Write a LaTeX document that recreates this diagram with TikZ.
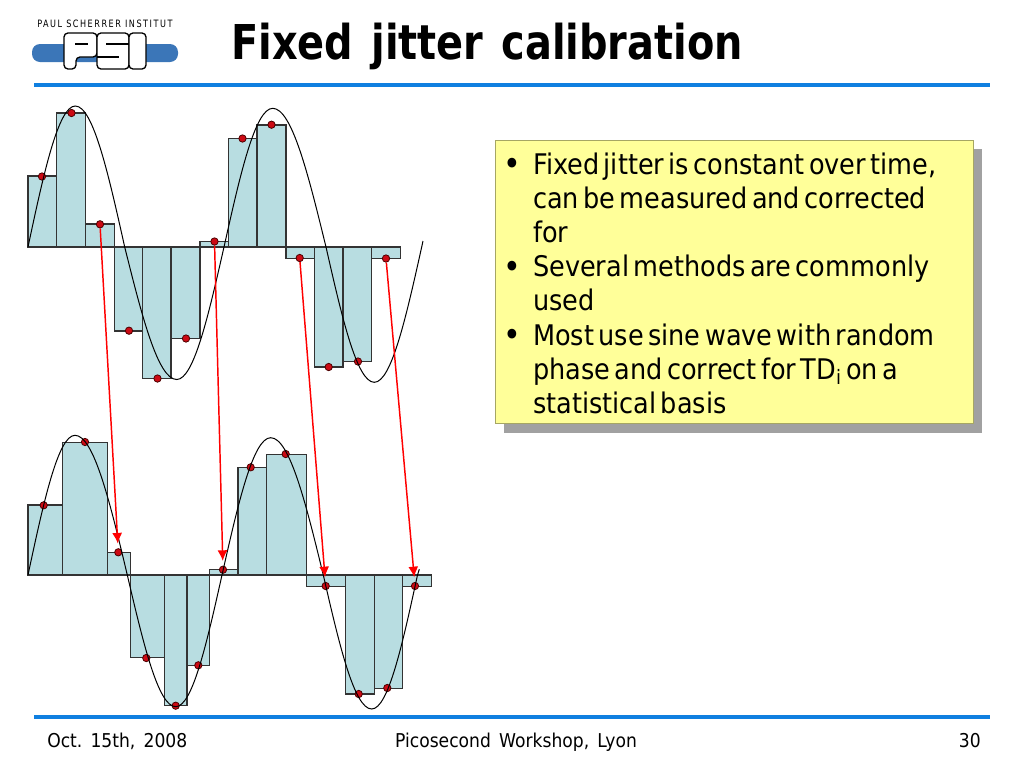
\documentclass[tikz,border=0pt]{standalone}
\usepackage{fontspec}
\setmainfont[FakeStretch=0.9, WordSpace=1.5]{DejaVu Sans}
\newfontfamily\titlefont[FakeStretch=0.83, WordSpace=1.3]{DejaVu Sans}
\newfontfamily\logofont[FakeStretch=0.8, LetterSpace=15]{DejaVu Sans}
\usepackage{enumitem}
\usetikzlibrary{arrows.meta, shadows}
\frenchspacing
\definecolor{barcol}{HTML}{B8DDE1}
\definecolor{rulecol}{HTML}{0F7FE0}
\definecolor{logocol}{HTML}{3B76B8}
\definecolor{notecol}{HTML}{FFFF99}
\definecolor{dotcol}{HTML}{CC0A14}
\tikzstyle{bar} = [draw=black!80, fill=barcol, line width=0.95pt]
\tikzstyle{wave} = [draw=black, line width=0.75pt]
\tikzstyle{sample} = [circle, draw=black!70!red, fill=dotcol, line width=0.6pt, inner sep=0pt, minimum size=5.5pt]
\tikzstyle{arrow} = [draw=red, line width=1.1pt, -{Latex[length=8pt,width=7.5pt]}, shorten >=3.5pt]
\tikzstyle{rulebar} = [draw=rulecol, line width=2.3pt]
\tikzstyle{footer} = [inner sep=0pt, font=\fontsize{14.3pt}{18pt}\selectfont]
\tikzstyle{note} = [rectangle, draw=black!35!notecol, fill=notecol, line width=0.7pt, minimum width=358.5pt, minimum height=212.5pt, text width=344pt, inner sep=0pt, align=left, drop shadow={shadow xshift=6.5pt, shadow yshift=-6.5pt, fill=black!37, opacity=1}]
\tikzstyle{logopart} = [draw=black, fill=white, line width=1pt, rounded corners=3pt]
\begin{document}
\begin{tikzpicture}[x=0.75pt, y=-0.75pt]
    \useasboundingbox (0,0) rectangle (1024,768);
    % header
    \node (title) [anchor=base west, inner sep=0pt, font=\fontsize{36pt}{40pt}\titlefont\bfseries] at (231,59) {Fixed jitter calibration};
    \node (institute) [anchor=base west, inner sep=0pt, font=\fontsize{7.6pt}{9pt}\logofont] at (37,27) {PAUL SCHERRER INSTITUT};
    \draw [fill=logocol, draw=none, rounded corners=6pt] (32,44) rectangle (178,62);
    \draw [logopart] (64,33) -- (97,33) -- (97,57) -- (76,57) -- (76,69) -- (64,69) -- cycle;
    \draw [logopart] (97,33) rectangle (129,69);
    \draw [logopart] (129,33) rectangle (146,69);
    \draw [line width=0.9pt] (75,44) -- (88,44);
    \draw [line width=0.9pt] (106,44) -- (129,44);
    \draw [line width=0.9pt] (97,57) -- (119,57);
    \draw [rulebar] (34,85) -- (990,85);
    \draw [rulebar] (34,717) -- (990,717);
    % upper bars
    \draw [bar] (28,247) rectangle (56.5,176);
    \draw [bar] (56.5,247) rectangle (85.3,113);
    \draw [bar] (85.3,247) rectangle (114.3,224);
    \draw [bar] (114.3,247) rectangle (142.3,331);
    \draw [bar] (142.3,247) rectangle (171,378.5);
    \draw [bar] (171,247) rectangle (200,338.5);
    \draw [bar] (200,247) rectangle (228.5,241.5);
    \draw [bar] (228.5,247) rectangle (257,138.5);
    \draw [bar] (257,247) rectangle (286,125);
    \draw [bar] (286,247) rectangle (314.3,258.5);
    \draw [bar] (314.3,247) rectangle (343,367);
    \draw [bar] (343,247) rectangle (371.7,361.7);
    \draw [bar] (371.7,247) rectangle (400.3,258.5);
    % lower bars
    \draw [bar] (28,575) rectangle (62.3,505);
    \draw [bar] (62.3,575) rectangle (107.7,442.3);
    \draw [bar] (107.7,575) rectangle (130.3,552.3);
    \draw [bar] (130.3,575) rectangle (164.3,657.7);
    \draw [bar] (164.3,575) rectangle (187,705.7);
    \draw [bar] (187,575) rectangle (209.7,665.7);
    \draw [bar] (209.7,575) rectangle (238,569.7);
    \draw [bar] (238,575) rectangle (266.3,467.3);
    \draw [bar] (266.3,575) rectangle (306.3,454.3);
    \draw [bar] (306.3,575) rectangle (345.7,586.3);
    \draw [bar] (345.7,575) rectangle (374.3,694);
    \draw [bar] (374.3,575) rectangle (402.7,688.3);
    \draw [bar] (402.7,575) rectangle (431.3,586.3);
    % sample points
    \node (upa) [sample] at (42,176.5) {};
    \node (upb) [sample] at (71.5,113) {};
    \node (upc) [sample] at (100,224.3) {};
    \node (upd) [sample] at (129,330.7) {};
    \node (upe) [sample] at (157.5,378.5) {};
    \node (upf) [sample] at (186,338.5) {};
    \node (upg) [sample] at (214.5,241.5) {};
    \node (uph) [sample] at (242.5,138.5) {};
    \node (upi) [sample] at (271.5,124.7) {};
    \node (upj) [sample] at (299.7,258) {};
    \node (upk) [sample] at (328.7,367) {};
    \node (upl) [sample] at (358,361.5) {};
    \node (upm) [sample] at (386,258.5) {};
    \node (lowa) [sample] at (43.7,505.3) {};
    \node (lowb) [sample] at (85,442) {};
    \node (lowc) [sample] at (118.3,552.3) {};
    \node (lowd) [sample] at (146.3,658) {};
    \node (lowe) [sample] at (175.7,705.7) {};
    \node (lowf) [sample] at (198.3,665.3) {};
    \node (lowg) [sample] at (223,569.7) {};
    \node (lowh) [sample] at (250.7,467.3) {};
    \node (lowi) [sample] at (285.7,454) {};
    \node (lowj) [sample] at (325.7,586) {};
    \node (lowk) [sample] at (358.7,694) {};
    \node (lowl) [sample] at (387.3,688) {};
    \node (lowm) [sample] at (415,586) {};
    % waves
    \draw [wave] (28,247) sin (75.3,106) cos (124.7,247) sin (176.7,379.5) cos (224,247) sin (272.7,108.3) cos (326,247) sin (374.3,382.3) cos (421.7,247) -- (423,241);
    \draw [wave] (28,575) sin (75,435.3) cos (127.3,575) sin (175.7,706.7) cos (222,575) sin (270.7,437.7) cos (323.3,575) sin (371.7,709) cos (417.5,575) -- (419.3,569.3);
    % arrows
    \draw [arrow] (upc) -- (lowc);
    \draw [arrow] (upg) -- (lowg);
    \draw [arrow] (upj) -- (lowj);
    \draw [arrow] (upm) -- (lowm);
    % text box
    \node (notebox) [note] at (734.5,282.2) {\fontsize{21.3pt}{25.65pt}\selectfont
      \vspace*{-8pt}
      \begin{itemize}[nosep, leftmargin=21pt, labelsep=9pt, label={\raisebox{-1pt}{\fontsize{25pt}{25pt}\selectfont\textbullet}}]
        \item Fixed jitter is constant over time,\\ can be measured and corrected\\ for
        \item Several methods are commonly\\ used
        \item Most use sine wave with random\\ phase and correct for TD\textsubscript{i} on a\\ statistical basis
      \end{itemize}};
    % footer
    \node (date) [footer, anchor=base west] at (47,747) {Oct. 15th, 2008};
    \node (venue) [footer, anchor=base] at (516,747) {Picosecond Workshop, Lyon};
    \node (page) [footer, anchor=base east] at (981,747) {30};
\end{tikzpicture}
\end{document}
